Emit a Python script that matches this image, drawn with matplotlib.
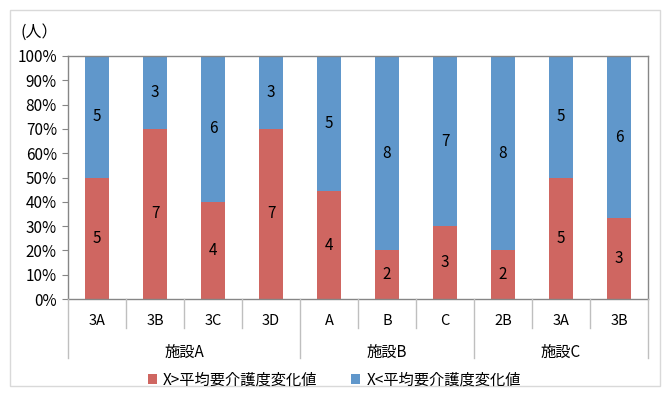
import numpy as np
import matplotlib.pyplot as plt
from matplotlib.patches import Rectangle

plt.rcParams['font.family'] = ['Noto Sans CJK JP', 'DejaVu Sans']

# データ
groups = ['施設A', '施設B', '施設C']
group_sizes = [4, 3, 3]
cats = ['3A', '3B', '3C', '3D', 'A', 'B', 'C', '2B', '3A', '3B']
over = np.array([5, 7, 4, 7, 4, 2, 3, 2, 5, 3])
under = np.array([5, 3, 6, 3, 5, 8, 7, 8, 5, 6])
series_names = ['X>平均要介護度変化値', 'X<平均要介護度変化値']

red = '#CF6661'
blue = '#6097CB'
grid = '#868686'

W, H = 669, 396
fig = plt.figure(figsize=(W / 100, H / 100), dpi=100)
# 外枠
fig.patches.append(Rectangle((10 / W, 10 / H), 650 / W, 376 / H, transform=fig.transFigure,
                             fill=False, edgecolor='#D9D9D9', lw=1))

x0, x1, y0, y1 = 68, 648, 56, 299
ax = fig.add_axes([x0 / W, 1 - y1 / H, (x1 - x0) / W, (y1 - y0) / H])

total = over + under
p_over = over / total
p_under = under / total
x = np.arange(len(cats))
bw = 0.4
ax.bar(x, p_over, bw, color=red, label=series_names[0])
ax.bar(x, p_under, bw, bottom=p_over, color=blue, label=series_names[1])

for i in range(len(cats)):
    ax.text(x[i], p_over[i] / 2, str(over[i]), ha='center', va='center', fontsize=11)
    ax.text(x[i], p_over[i] + p_under[i] / 2, str(under[i]), ha='center', va='center', fontsize=11)

ax.set_xlim(-0.5, len(cats) - 0.5)
ax.set_ylim(0, 1)
ax.set_yticks(np.arange(0, 1.01, 0.1))
ax.set_yticklabels([f'{int(round(v * 100))}%' for v in np.arange(0, 1.01, 0.1)], fontsize=11)
ax.tick_params(axis='y', length=4, color=grid, pad=4)
ax.set_xticks([])
for s in ax.spines.values():
    s.set_color(grid)
    s.set_linewidth(1)

# カテゴリ軸（2段）
def fx(v):
    return (x0 + (v + 0.5) * (x1 - x0) / len(cats)) / W

def fy(py):
    return 1 - py / H

for i in range(len(cats) + 1):
    edge = i - 0.5
    bounds = np.cumsum([0] + group_sizes)
    bottom = 358 if i in bounds else 328
    fig.add_artist(plt.Line2D([fx(edge), fx(edge)], [fy(y1), fy(bottom)], color='#BFBFBF', lw=1))
for i, c in enumerate(cats):
    fig.text(fx(i), fy(321), c, ha='center', va='center', fontsize=10.5)
start = 0
for g, n in zip(groups, group_sizes):
    fig.text(fx(start + (n - 1) / 2), fy(352), g, ha='center', va='center', fontsize=11)
    start += n

fig.text(21 / W, fy(32), '(人）', ha='left', va='center', fontsize=11.5)

fig.legend(loc='center', bbox_to_anchor=(0.5, fy(380)), ncol=2, frameon=False,
           fontsize=11, handlelength=0.6, handleheight=0.6, columnspacing=2.2, handletextpad=0.4)

fig.savefig('out.png', dpi=100)
